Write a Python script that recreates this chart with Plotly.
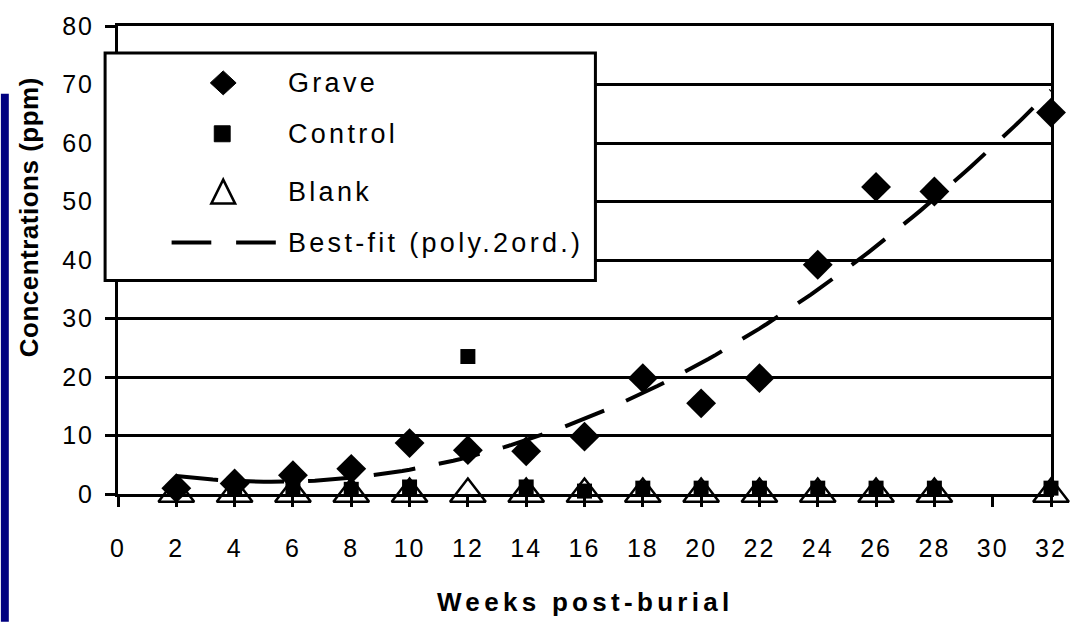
import numpy as np
import plotly.graph_objects as go

# Sampling weeks and measured concentrations (ppm)
weeks = [2, 4, 6, 8, 10, 12, 14, 16, 18, 20, 22, 24, 26, 28, 32]
grave = [1.0, 1.8, 3.2, 4.3, 8.7, 7.5, 7.3, 9.8, 19.8, 15.5, 19.8, 39.2, 52.5, 51.7, 65.2]
control = [0.8, 0.8, 1.0, 0.8, 1.2, 23.5, 1.2, 0.5, 1.0, 1.0, 1.0, 1.0, 1.0, 1.0, 1.0]
blank = [0.0, 0.0, 0.0, 0.0, 0.0, 0.0, 0.0, 0.0, 0.0, 0.0, 0.0, 0.0, 0.0, 0.0, 0.0]

x_ticks = [0, 2, 4, 6, 8, 10, 12, 14, 16, 18, 20, 22, 24, 26, 28, 30, 32]
y_ticks = [0, 10, 20, 30, 40, 50, 60, 70, 80]

legend_names = ["Grave", "Control", "Blank", "Best-fit (poly.2ord.)"]

FONT = "Arial, Liberation Sans, sans-serif"
W, H = 1079, 622
L, R, T, B = 118, 21, 25, 128
PW, PH = W - L - R, H - T - B


def fx(p):
    """pixel x -> paper x"""
    return (p - L) / PW


def fy(p):
    """pixel y -> paper y"""
    return (H - B - p) / PH


def spaced(text, sp):
    return f'<span style="letter-spacing:{sp}px">{text}</span>'


# second-order polynomial trend through the grave series
coef = np.polyfit(weeks, grave, 2)
fit_x = np.linspace(weeks[0], weeks[-1], 121)
fit_y = np.polyval(coef, fit_x)

fig = go.Figure()
fig.add_trace(go.Scatter(x=fit_x, y=fit_y, mode="lines", name=legend_names[3],
                         line=dict(color="black", width=4, dash="42px,24px"),
                         showlegend=False, hoverinfo="skip"))
fig.add_trace(go.Scatter(x=weeks, y=blank, mode="markers", name=legend_names[2],
                         marker=dict(symbol="triangle-up-open", size=31, color="black",
                                     line=dict(width=2.5, color="black")),
                         cliponaxis=False, showlegend=False))
fig.add_trace(go.Scatter(x=weeks, y=control, mode="markers", name=legend_names[1],
                         marker=dict(symbol="square", size=15, color="black"),
                         cliponaxis=False, showlegend=False))
fig.add_trace(go.Scatter(x=weeks, y=grave, mode="markers", name=legend_names[0],
                         marker=dict(symbol="diamond", size=23, color="black"),
                         cliponaxis=False, showlegend=False))

tick_font = dict(family=FONT, size=25, color="black")
fig.update_xaxes(range=[0, 32], tickmode="array", tickvals=x_ticks,
                 ticktext=[spaced(str(v), 2) for v in x_ticks],
                 showgrid=False, zeroline=False, showline=True, linecolor="black",
                 linewidth=3, mirror=True, ticks="outside", ticklen=10, tickwidth=3,
                 tickcolor="black", tickfont=tick_font, ticklabelstandoff=20)
fig.update_yaxes(range=[0, 80], tickmode="array", tickvals=y_ticks,
                 ticktext=[spaced(str(v), 2) for v in y_ticks],
                 showgrid=True, gridcolor="black", gridwidth=3, zeroline=False,
                 showline=True, linecolor="black", linewidth=3, mirror=True,
                 ticks="outside", ticklen=10, tickwidth=3, tickcolor="black",
                 tickfont=tick_font, ticklabelstandoff=6)

shapes = []
# navy strip along the left edge
shapes.append(dict(type="rect", xref="paper", yref="paper", x0=fx(0), x1=fx(8),
                   y0=fy(93), y1=fy(H), fillcolor="#000080", line=dict(width=0),
                   layer="above"))
# legend box
shapes.append(dict(type="rect", xref="paper", yref="paper", x0=fx(105), x1=fx(599),
                   y0=fy(280), y1=fy(52), fillcolor="white",
                   line=dict(color="black", width=3), layer="above"))

sym_x = 224
rows_y = [82, 133, 191, 242]
# diamond
cx, cy = sym_x, rows_y[0]
shapes.append(dict(type="path", xref="paper", yref="paper",
                   path=(f"M{fx(cx - 13)},{fy(cy)} L{fx(cx)},{fy(cy - 12)} "
                         f"L{fx(cx + 13)},{fy(cy)} L{fx(cx)},{fy(cy + 12)} Z"),
                   fillcolor="black", line=dict(color="black", width=1), layer="above"))
# square
cx, cy = sym_x - 1, rows_y[1]
shapes.append(dict(type="rect", xref="paper", yref="paper",
                   x0=fx(cx - 8), x1=fx(cx + 8), y0=fy(cy + 8), y1=fy(cy - 8),
                   fillcolor="black", line=dict(color="black", width=1), layer="above"))
# open triangle
cx, cy = sym_x, rows_y[2]
shapes.append(dict(type="path", xref="paper", yref="paper",
                   path=(f"M{fx(cx - 12)},{fy(cy + 12)} L{fx(cx)},{fy(cy - 12)} "
                         f"L{fx(cx + 12)},{fy(cy + 12)} Z"),
                   line=dict(color="black", width=2.5), layer="above"))
# dashed trend sample
for a, b in [(172, 212), (237, 277)]:
    shapes.append(dict(type="line", xref="paper", yref="paper",
                       x0=fx(a), x1=fx(b), y0=fy(rows_y[3]), y1=fy(rows_y[3]),
                       line=dict(color="black", width=4), layer="above"))

annotations = []
for name, ry in zip(legend_names, rows_y):
    annotations.append(dict(text=spaced(name, 3.3), xref="paper", yref="paper",
                            x=fx(287), y=fy(ry), xanchor="left", yanchor="middle",
                            showarrow=False,
                            font=dict(family=FONT, size=27, color="black")))

annotations.append(dict(text="<b>" + spaced("Weeks post-burial", 4.3) + "</b>",
                        xref="paper", yref="paper", x=fx(589), y=fy(602),
                        xanchor="center", yanchor="middle", showarrow=False,
                        font=dict(family=FONT, size=26, color="black")))
annotations.append(dict(text="<b>" + spaced("Concentrations (ppm)", 0.5) + "</b>",
                        textangle=-90,
                        xref="paper", yref="paper", x=fx(28), y=fy(217),
                        xanchor="center", yanchor="middle", showarrow=False,
                        font=dict(family=FONT, size=26, color="black")))

fig.update_layout(width=W, height=H, margin=dict(l=L, r=R, t=T, b=B),
                  paper_bgcolor="white", plot_bgcolor="white",
                  showlegend=False, shapes=shapes, annotations=annotations)

fig.write_html("out.html")
